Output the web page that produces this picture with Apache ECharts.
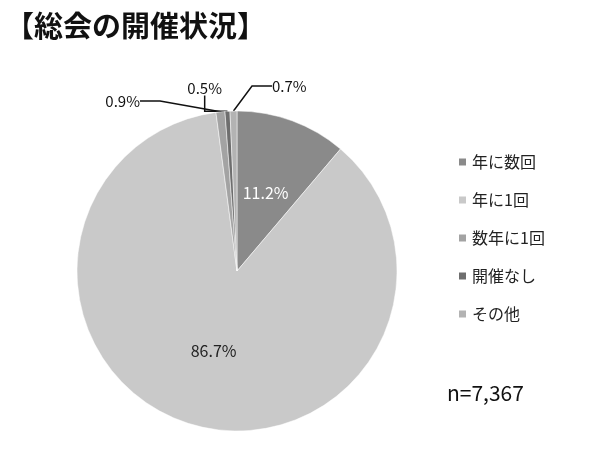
<!DOCTYPE html>
<html><head><meta charset="utf-8">
<script src="https://cdn.jsdelivr.net/npm/echarts@6/dist/echarts.min.js"></script>
<style>body{margin:0}#c{width:600px;height:450px;background:#fff}</style>
</head><body><div id="c"></div>
<script>
const categories = ['年に数回', '年に1回', '数年に1回', '開催なし', 'その他'];
const values = [11.2, 86.7, 0.9, 0.5, 0.7];
const colors = ['#8a8a8a', '#c9c9c9', '#a3a3a3', '#6e6e6e', '#b3b3b3'];

const font = '"Noto Sans CJK JP", sans-serif';
const chart = echarts.init(document.getElementById('c'));
const inside = { 0: '#fff', 1: '#222' };
// outside label anchor spots for the thin slices
const labelSpots = { 2: [140, 101], 3: [222, 88], 4: [272, 86] };

chart.setOption({
  animation: false,
  title: {
    text: '【総会の開催状況】', left: 0, top: 6,
    textStyle: { fontFamily: font, fontSize: 29, fontWeight: 'bold', color: '#111' }
  },
  legend: {
    orient: 'vertical', left: 452, top: 149, itemGap: 22,
    itemWidth: 9, itemHeight: 9, icon: 'rect',
    textStyle: { fontFamily: font, fontSize: 16, color: '#222' },
    data: categories
  },
  graphic: [{
    type: 'text', left: 447, top: 383,
    style: { text: 'n=7,367', font: '21px ' + font, fill: '#111' }
  }],
  series: [{
    type: 'pie', center: [237, 271], radius: 160, startAngle: 90,
    clockwise: true,
    itemStyle: { borderColor: '#fff', borderWidth: 0.5 },
    data: categories.map((n, i) => {
      const d = { name: n, value: values[i], itemStyle: { color: colors[i] } };
      if (i < 2) {
        d.label = { position: 'inside', color: inside[i], fontSize: 16 };
        d.labelLine = { show: false };
      }
      return d;
    }),
    label: {
      formatter: p => p.value.toFixed(1) + '%',
      fontFamily: font, fontSize: 15, color: '#111'
    },
    labelLine: { show: true, length: 12, length2: 20, lineStyle: { color: '#111', width: 1.5 } },
    labelLayout: p => {
      const s = labelSpots[p.dataIndex];
      if (!s) return {};
      return { x: s[0], y: s[1], align: p.dataIndex === 4 ? 'left' : 'right', verticalAlign: 'middle' };
    }
  }]
});
</script></body></html>
